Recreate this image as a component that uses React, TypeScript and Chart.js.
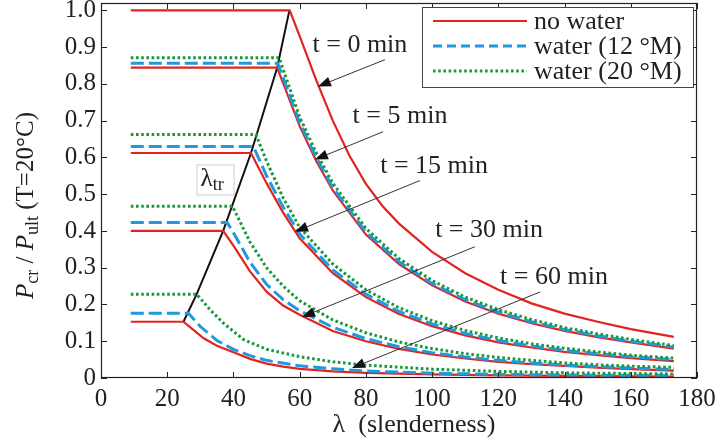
import React, { useEffect, useRef } from "react";
import { Chart, registerables } from "chart.js";

Chart.register(...registerables);

// ---------- data ----------
const xTicks = [0, 20, 40, 60, 80, 100, 120, 140, 160, 180];
const yTicks = [0, 0.1, 0.2, 0.3, 0.4, 0.5, 0.6, 0.7, 0.8, 0.9, 1.0];
const yTickLabels = ["0", "0.1", "0.2", "0.3", "0.4", "0.5", "0.6", "0.7", "0.8", "0.9", "1.0"];

const legendLabels = ["no water", "water (12 °M)", "water (20 °M)"];

// [lambda, Pcr/Pult]
const noWater_t0 = [[9, 1.0], [57, 1.0], [60, 0.93], [65, 0.81], [70, 0.7], [75, 0.605], [80, 0.528], [85, 0.468], [90, 0.42], [100, 0.343], [110, 0.285], [120, 0.24], [130, 0.203], [140, 0.175], [150, 0.153], [160, 0.133], [173, 0.112]];

const noWater_t5 = [[9, 0.844], [53.2, 0.844], [60, 0.685], [65, 0.59], [70, 0.51], [80, 0.39], [90, 0.31], [100, 0.252], [110, 0.208], [120, 0.175], [130, 0.149], [140, 0.128], [150, 0.111], [160, 0.097], [173, 0.08]];
const water12_t5 = [[9, 0.856], [53.4, 0.856], [60, 0.695], [65, 0.6], [70, 0.518], [80, 0.397], [90, 0.316], [100, 0.257], [110, 0.213], [120, 0.179], [130, 0.153], [140, 0.132], [150, 0.115], [160, 0.1], [173, 0.084]];
const water20_t5 = [[9, 0.871], [53.8, 0.871], [60, 0.71], [65, 0.613], [70, 0.53], [80, 0.407], [90, 0.325], [100, 0.265], [110, 0.22], [120, 0.186], [130, 0.159], [140, 0.137], [150, 0.12], [160, 0.105], [173, 0.088]];

const noWater_t15 = [[9, 0.612], [45.3, 0.612], [50, 0.53], [55, 0.45], [60, 0.38], [70, 0.285], [80, 0.22], [90, 0.174], [100, 0.141], [110, 0.116], [120, 0.097], [130, 0.083], [140, 0.071], [150, 0.062], [160, 0.054], [173, 0.046]];
const water12_t15 = [[9, 0.63], [46, 0.63], [50, 0.55], [55, 0.465], [60, 0.392], [70, 0.294], [80, 0.228], [90, 0.181], [100, 0.147], [110, 0.121], [120, 0.102], [130, 0.087], [140, 0.075], [150, 0.066], [160, 0.058], [173, 0.05]];
const water20_t15 = [[9, 0.662], [46.8, 0.662], [50, 0.59], [55, 0.49], [60, 0.41], [70, 0.31], [80, 0.24], [90, 0.191], [100, 0.156], [110, 0.129], [120, 0.109], [130, 0.093], [140, 0.081], [150, 0.071], [160, 0.062], [173, 0.054]];

const noWater_t30 = [[9, 0.4], [36.9, 0.4], [40, 0.36], [45, 0.29], [50, 0.235], [55, 0.197], [60, 0.172], [70, 0.128], [80, 0.1], [90, 0.079], [100, 0.064], [110, 0.053], [120, 0.044], [130, 0.038], [140, 0.033], [150, 0.028], [160, 0.024], [173, 0.02]];
const water12_t30 = [[9, 0.423], [38.1, 0.423], [40, 0.395], [45, 0.315], [50, 0.255], [55, 0.213], [60, 0.183], [70, 0.138], [80, 0.107], [90, 0.085], [100, 0.069], [110, 0.057], [120, 0.048], [130, 0.041], [140, 0.035], [150, 0.031], [160, 0.027], [173, 0.023]];
const water20_t30 = [[9, 0.467], [39.7, 0.467], [45, 0.37], [50, 0.3], [55, 0.25], [60, 0.21], [70, 0.158], [80, 0.123], [90, 0.098], [100, 0.08], [110, 0.066], [120, 0.056], [130, 0.048], [140, 0.041], [150, 0.036], [160, 0.032], [173, 0.029]];

const noWater_t60 = [[9, 0.153], [24.9, 0.153], [28, 0.13], [31, 0.108], [35, 0.088], [40, 0.07], [45, 0.052], [50, 0.039], [55, 0.031], [60, 0.025], [70, 0.018], [80, 0.014], [100, 0.01], [120, 0.007], [140, 0.006], [173, 0.004]];
const water12_t60 = [[9, 0.176], [26.4, 0.176], [30, 0.14], [35, 0.102], [40, 0.078], [45, 0.061], [50, 0.048], [60, 0.033], [70, 0.025], [80, 0.019], [100, 0.013], [120, 0.01], [140, 0.008], [173, 0.007]];
const water20_t60 = [[9, 0.228], [28.9, 0.228], [33, 0.185], [37, 0.149], [43, 0.105], [50, 0.078], [60, 0.058], [70, 0.044], [80, 0.035], [100, 0.024], [120, 0.018], [140, 0.014], [173, 0.011]];

const lambdaTrLine = [[24.9, 0.153], [28.9, 0.228], [36.9, 0.4], [45.3, 0.612], [53.2, 0.844], [56.9, 1.0]];

// annotations (data coordinates)
const timeLabels = ["t = 0 min", "t = 5 min", "t = 15 min", "t = 30 min", "t = 60 min"];
const timeLabelPos = [[78.2, 0.905], [90.3, 0.711], [100.6, 0.575], [117.2, 0.401], [136.8, 0.275]];
const arrowFrom = [[85.8, 0.866], [85.2, 0.67], [96.3, 0.537], [112.9, 0.357], [132.6, 0.234]];
const arrowTo = [[65.5, 0.793], [64.6, 0.594], [58.6, 0.398], [60.7, 0.166], [75.8, 0.027]];
const lambdaTrLabelPos = [34.3, 0.54];

// ---------- styles ----------
const RED = "#e2231f";
const BLUE = "#1d9ae0";
const GREEN = "#17993a";
const FONT = "'Liberation Serif', 'Times New Roman', serif";

const toXY = (arr: number[][]) => arr.map(([x, y]) => ({ x, y }));

const styleRed = { borderColor: RED, borderWidth: 2.2, borderDash: [] as number[] };
const styleBlue = { borderColor: BLUE, borderWidth: 3, borderDash: [13, 5] };
const styleGreen = { borderColor: GREEN, borderWidth: 3, borderDash: [2.6, 2.6] };

function buildDatasets() {
  const list: any[] = [];
  const add = (label: string, data: number[][], style: any) =>
    list.push({
      label,
      data: toXY(data),
      showLine: true,
      pointRadius: 0,
      tension: 0,
      fill: false,
      borderCapStyle: "butt",
      ...style,
    });
  add("water (20 °M) t=5", water20_t5, styleGreen);
  add("water (20 °M) t=15", water20_t15, styleGreen);
  add("water (20 °M) t=30", water20_t30, styleGreen);
  add("water (20 °M) t=60", water20_t60, styleGreen);
  add("water (12 °M) t=5", water12_t5, styleBlue);
  add("water (12 °M) t=15", water12_t15, styleBlue);
  add("water (12 °M) t=30", water12_t30, styleBlue);
  add("water (12 °M) t=60", water12_t60, styleBlue);
  add("no water t=0", noWater_t0, styleRed);
  add("no water t=5", noWater_t5, styleRed);
  add("no water t=15", noWater_t15, styleRed);
  add("no water t=30", noWater_t30, styleRed);
  add("no water t=60", noWater_t60, styleRed);
  add("lambda_tr", lambdaTrLine, { borderColor: "#111", borderWidth: 2, borderDash: [] });
  return list;
}

const decorPlugin = {
  id: "decor",
  afterDraw(chart: any) {
    const { ctx, chartArea, scales } = chart;
    const xs = scales.x;
    const ys = scales.y;
    const { left, right, top, bottom } = chartArea;
    ctx.save();

    // frame
    ctx.strokeStyle = "#222";
    ctx.lineWidth = 1.2;
    ctx.setLineDash([]);
    ctx.strokeRect(left + 0.5, top + 0.5, right - left - 1, bottom - top - 1);

    // inward tick marks
    ctx.lineWidth = 1;
    ctx.beginPath();
    xTicks.forEach((v) => {
      const px = Math.round(xs.getPixelForValue(v)) + 0.5;
      ctx.moveTo(px, bottom);
      ctx.lineTo(px, bottom - 6);
      ctx.moveTo(px, top);
      ctx.lineTo(px, top + 6);
    });
    yTicks.forEach((v) => {
      const py = Math.round(ys.getPixelForValue(v)) + 0.5;
      ctx.moveTo(left, py);
      ctx.lineTo(left + 6, py);
      ctx.moveTo(right, py);
      ctx.lineTo(right - 6, py);
    });
    ctx.stroke();

    // y-axis title with italics and subscripts
    const parts: [string, string, boolean][] = [
      ["P", "italic 25px " + FONT, false],
      ["cr", "18px " + FONT, true],
      [" / ", "25px " + FONT, false],
      ["P", "italic 25px " + FONT, false],
      ["ult", "18px " + FONT, true],
      [" (T=20°C)", "25px " + FONT, false],
    ];
    let total = 0;
    parts.forEach(([t, f]) => {
      ctx.font = f;
      total += ctx.measureText(t).width;
    });
    ctx.save();
    ctx.translate(33, (top + bottom) / 2 + 15);
    ctx.rotate(-Math.PI / 2);
    ctx.fillStyle = "#222";
    ctx.textBaseline = "alphabetic";
    ctx.textAlign = "left";
    let cx = -total / 2;
    parts.forEach(([t, f, sub]) => {
      ctx.font = f;
      ctx.fillText(t, cx, sub ? 5 : 0);
      cx += ctx.measureText(t).width;
    });
    ctx.restore();

    // x-axis title
    ctx.fillStyle = "#222";
    ctx.textBaseline = "middle";
    ctx.textAlign = "center";
    ctx.font = "26px " + FONT;
    ctx.fillText("λ  (slenderness)", (left + right) / 2 + 15, 425);

    // time annotations
    ctx.font = "26px " + FONT;
    ctx.textAlign = "center";
    ctx.textBaseline = "middle";
    timeLabels.forEach((t, i) => {
      ctx.fillStyle = "#222";
      ctx.fillText(t, xs.getPixelForValue(timeLabelPos[i][0]), ys.getPixelForValue(timeLabelPos[i][1]));
      const x1 = xs.getPixelForValue(arrowFrom[i][0]);
      const y1 = ys.getPixelForValue(arrowFrom[i][1]);
      const x2 = xs.getPixelForValue(arrowTo[i][0]);
      const y2 = ys.getPixelForValue(arrowTo[i][1]);
      const ang = Math.atan2(y2 - y1, x2 - x1);
      const headLen = 13;
      const headW = 5;
      ctx.strokeStyle = "#333";
      ctx.lineWidth = 1;
      ctx.beginPath();
      ctx.moveTo(x1, y1);
      ctx.lineTo(x2 - Math.cos(ang) * headLen, y2 - Math.sin(ang) * headLen);
      ctx.stroke();
      ctx.fillStyle = "#111";
      ctx.beginPath();
      ctx.moveTo(x2, y2);
      const bx = x2 - Math.cos(ang) * headLen;
      const by = y2 - Math.sin(ang) * headLen;
      ctx.lineTo(bx + Math.sin(ang) * headW, by - Math.cos(ang) * headW);
      ctx.lineTo(bx - Math.sin(ang) * headW, by + Math.cos(ang) * headW);
      ctx.closePath();
      ctx.fill();
    });

    // lambda_tr label box
    const lx = xs.getPixelForValue(lambdaTrLabelPos[0]);
    const ly = ys.getPixelForValue(lambdaTrLabelPos[1]);
    ctx.fillStyle = "#fff";
    ctx.fillRect(lx - 18, ly - 15, 37, 30);
    ctx.strokeStyle = "#ccc";
    ctx.lineWidth = 1;
    ctx.strokeRect(lx - 18 + 0.5, ly - 15 + 0.5, 37, 30);
    ctx.fillStyle = "#222";
    ctx.textAlign = "left";
    ctx.textBaseline = "alphabetic";
    ctx.font = "25px " + FONT;
    ctx.fillText("λ", lx - 14, ly + 7);
    const lw = ctx.measureText("λ").width;
    ctx.font = "18px " + FONT;
    ctx.fillText("tr", lx - 14 + lw, ly + 11);

    // legend
    const boxL = 422, boxT = 7, boxW = 271, boxH = 80;
    ctx.fillStyle = "#fff";
    ctx.fillRect(boxL, boxT, boxW, boxH);
    ctx.strokeStyle = "#444";
    ctx.lineWidth = 1;
    ctx.setLineDash([]);
    ctx.strokeRect(boxL + 0.5, boxT + 0.5, boxW, boxH);
    const legendStyles = [styleRed, { ...styleBlue, borderDash: [9, 5] }, styleGreen];
    legendLabels.forEach((lab, i) => {
      const y = boxT + 14 + i * 25;
      const s: any = legendStyles[i];
      ctx.strokeStyle = s.borderColor;
      ctx.lineWidth = s.borderWidth;
      ctx.setLineDash(s.borderDash);
      ctx.beginPath();
      ctx.moveTo(433, y);
      ctx.lineTo(527, y);
      ctx.stroke();
      ctx.setLineDash([]);
      ctx.fillStyle = "#222";
      ctx.font = "26px " + FONT;
      ctx.textAlign = "left";
      ctx.textBaseline = "middle";
      ctx.fillText(lab, 534, y + 1);
    });

    ctx.restore();
  },
};

export default function App() {
  const ref = useRef<HTMLCanvasElement | null>(null);
  useEffect(() => {
    if (!ref.current) return;
    const chart = new Chart(ref.current, {
      type: "scatter",
      data: { datasets: buildDatasets() },
      options: {
        animation: false,
        responsive: false,
        devicePixelRatio: 1,
        layout: { padding: { left: 0, right: 23, top: 3, bottom: 0 } },
        plugins: { legend: { display: false }, tooltip: { enabled: false } },
        scales: {
          x: {
            type: "linear",
            min: 0,
            max: 180,
            grid: { display: false, drawTicks: false },
            border: { display: false },
            afterBuildTicks: (s: any) => {
              s.ticks = xTicks.map((v) => ({ value: v }));
            },
            afterFit: (s: any) => {
              s.height = 70;
              s.paddingLeft = 0;
              s.paddingRight = 0;
            },
            ticks: {
              padding: 6,
              color: "#222",
              font: { family: FONT, size: 25 },
              maxRotation: 0,
              callback: (v: any) => String(v),
            },
          },
          y: {
            type: "linear",
            min: 0,
            max: 1.02,
            grid: { display: false, drawTicks: false },
            border: { display: false },
            afterBuildTicks: (s: any) => {
              s.ticks = yTicks.map((v) => ({ value: v }));
            },
            afterFit: (s: any) => {
              s.width = 101;
              s.paddingTop = 0;
              s.paddingBottom = 0;
            },
            ticks: {
              padding: 5,
              color: "#222",
              font: { family: FONT, size: 25 },
              callback: (_v: any, i: number) => yTickLabels[i],
            },
          },
        },
      },
      plugins: [decorPlugin],
    } as any);
    return () => chart.destroy();
  }, []);
  return (
    <div style={{ position: "absolute", left: 0, top: 0, width: 720, height: 448, background: "#fff" }}>
      <canvas ref={ref} width={720} height={448} />
    </div>
  );
}
